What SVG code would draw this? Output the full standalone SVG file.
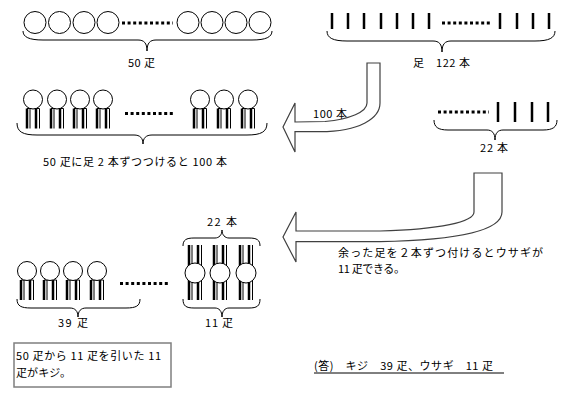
<svg xmlns="http://www.w3.org/2000/svg" width="586" height="412" viewBox="0 0 586 412">
<style>
text{font-family:"Noto Sans CJK JP","Noto Sans CJK SC",sans-serif;font-size:11px;fill:#000}
.c{fill:#fff;stroke:#000;stroke-width:1}
.bar{stroke:#000;stroke-width:2.5}
.thin{stroke:#000;stroke-width:1;fill:none}
.dots{stroke:#000;stroke-width:3;stroke-dasharray:3 2.6}
.brace{fill:none;stroke:#000;stroke-width:1}
.arrow{fill:#fff;stroke:#404040;stroke-width:1.2}
</style>
<defs>
<g id="chick">
<line class="bar" x1="-6" y1="9" x2="-6" y2="29"/>
<line class="bar" x1="3" y1="9" x2="3" y2="29"/>
<path class="thin" d="M-3,29 V9 M6.5,29 V9 M-6,9 H6.5"/>
<circle class="c" cx="0" cy="0" r="9.5"/>
</g>
<g id="rabbit">
<line class="bar" x1="-6" y1="-28" x2="-6" y2="27"/>
<line class="bar" x1="3" y1="-28" x2="3" y2="27"/>
<path class="thin" d="M-3,-28 V27 M6.5,-28 V27"/>
<circle class="c" cx="0" cy="0" r="10"/>
</g>
</defs>
<rect width="586" height="412" fill="#fff"/>

<g id="node-50-heads">
<circle class="c" cx="35" cy="22.5" r="11"/>
<circle class="c" cx="59.5" cy="22.5" r="11"/>
<circle class="c" cx="84" cy="22.5" r="11"/>
<circle class="c" cx="108" cy="22.5" r="11"/>
<line class="dots" x1="122" y1="23" x2="173" y2="23"/>
<circle class="c" cx="188" cy="22.5" r="11"/>
<circle class="c" cx="212" cy="22.5" r="11"/>
<circle class="c" cx="236" cy="22.5" r="11"/>
<circle class="c" cx="260" cy="22.5" r="11"/>
<path class="brace" d="M23,31 C23,37 29,40 43,40 L138,40 C144,40 147,43 147,51 C147,43 150,40 156,40 L252,40 C266,40 272,37 272,31"/>
<text x="128" y="67" textLength="27">50 疋</text>
</g>

<g id="node-122-legs">
<g class="bar">
<line x1="332" y1="13" x2="332" y2="29"/>
<line x1="348" y1="13" x2="348" y2="29"/>
<line x1="364" y1="13" x2="364" y2="29"/>
<line x1="381" y1="13" x2="381" y2="29"/>
<line x1="397" y1="13" x2="397" y2="29"/>
<line x1="413" y1="13" x2="413" y2="29"/>
<line x1="429" y1="13" x2="429" y2="29"/>
<line x1="500" y1="13" x2="500" y2="29"/>
<line x1="517" y1="13" x2="517" y2="29"/>
<line x1="533" y1="13" x2="533" y2="29"/>
<line x1="549" y1="13" x2="549" y2="29"/>
</g>
<line class="dots" x1="442" y1="23" x2="491" y2="23"/>
<path class="brace" d="M327,31 C327,38 333,41 347,41 L433,41 C439,41 442,44 442,52 C442,44 445,41 451,41 L535,41 C549,41 555,38 555,31"/>
<text x="413" y="67" textLength="57">足　122 本</text>
</g>

<g id="connectors">
<path id="arrow-100" class="arrow" d="M367,63 H380 V103 C380,118 360,131.7 320,131.7 H295 V152 L283,127 L295,103 V122 L325,121.5 C350,119 367,112 367,103 Z"/>
<path id="arrow-rabbit" class="arrow" d="M474,173 H502 V212 C502,230 460,240 380,241.7 H296 V262 L283,237 L296,212 V231 H380 C440,229.5 474,222 474,212 Z"/>
<text x="313" y="118" textLength="34">100 本</text>
</g>

<g id="node-chickens-100">
<use href="#chick" x="33" y="99.5"/>
<use href="#chick" x="57" y="99.5"/>
<use href="#chick" x="80" y="99.5"/>
<use href="#chick" x="103" y="99.5"/>
<line class="dots" x1="125" y1="113.5" x2="173" y2="113.5"/>
<use href="#chick" x="200" y="99.5"/>
<use href="#chick" x="224" y="99.5"/>
<use href="#chick" x="248" y="99.5"/>
<path class="brace" d="M17,123 C17,132 23,135 37,135 L134,135 C140,135 143,138 143,144 C143,138 146,135 152,135 L247,135 C261,135 267,132 267,123"/>
<text x="43" y="166" textLength="184">50 疋に足 2 本ずつつけると 100 本</text>
</g>

<g id="node-22-legs">
<line class="dots" x1="438" y1="112" x2="489" y2="112"/>
<g class="bar">
<line x1="498" y1="102" x2="498" y2="122"/>
<line x1="515" y1="102" x2="515" y2="122"/>
<line x1="532" y1="102" x2="532" y2="122"/>
<line x1="548" y1="102" x2="548" y2="122"/>
</g>
<path class="brace" d="M434,120 C434,127 438,130 448,130 L487,130 C492,130 495,133 495,140 C495,133 498,130 503,130 L543,130 C553,130 557,127 557,120"/>
<text x="480" y="152" textLength="28">22 本</text>
</g>

<g id="node-rabbit-text">
<text x="338" y="257" textLength="205">余った足を２本ずつ付けるとウサギが</text>
<text x="338" y="273" textLength="67">11 疋できる。</text>
</g>

<g id="node-39-chickens">
<use href="#chick" x="27" y="271"/>
<use href="#chick" x="50" y="271"/>
<use href="#chick" x="73" y="271"/>
<use href="#chick" x="97" y="271"/>
<line class="dots" x1="120" y1="283.5" x2="169" y2="283.5"/>
<path class="brace" d="M17,299 C17,306 21,308 31,308 L70,308 C75,308 78,311 78,317 C78,311 81,308 86,308 L126,308 C136,308 140,306 140,299"/>
<text x="58" y="327" textLength="30">39 疋</text>
</g>

<g id="node-11-rabbits">
<use href="#rabbit" x="195" y="273"/>
<use href="#rabbit" x="220" y="273"/>
<use href="#rabbit" x="246" y="273"/>
<path class="brace" d="M183,246 C183,240 186,238 194,238 L215,238 C219,238 222,235 222,230 C222,235 225,238 229,238 L249,238 C257,238 260,240 260,246"/>
<path class="brace" d="M183,299 C183,306 186,308 194,308 L215,308 C219,308 222,311 222,317 C222,311 225,308 229,308 L249,308 C257,308 260,306 260,299"/>
<text x="207" y="226" textLength="30">22 本</text>
<text x="205" y="327" textLength="28">11 疋</text>
</g>

<g id="node-note">
<rect x="14" y="343" width="157" height="44" fill="#fff" stroke="#7f7f7f" stroke-width="1.5"/>
<text x="16" y="360" textLength="145">50 疋から 11 疋を引いた 11</text>
<text x="16" y="376.5" textLength="55">疋がキジ。</text>
</g>

<g id="node-answer">
<text x="314" y="370" textLength="179">(答)　キジ　39 疋、ウサギ　11 疋</text>
<line x1="314" y1="373" x2="504" y2="373" stroke="#000" stroke-width="1"/>
</g>
</svg>
